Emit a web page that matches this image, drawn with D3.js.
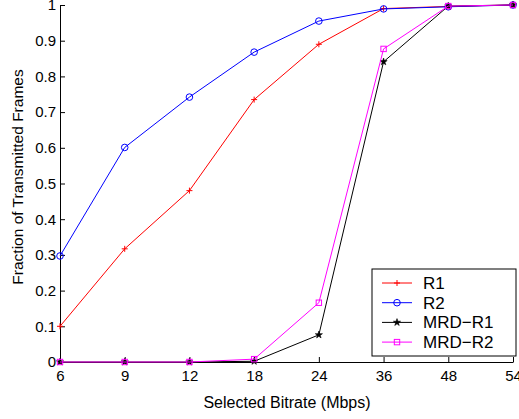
<!DOCTYPE html>
<html>
<head>
<meta charset="utf-8">
<script src="https://cdn.jsdelivr.net/npm/d3@7"></script>
<style>
  body { margin: 0; background: #fff; }
  svg { display: block; font-family: "Liberation Sans", Arial, sans-serif; }
</style>
</head>
<body>
<div id="chart"></div>
<script>
// ── Datos ─────────────────────────────────────────────────────────────────
const bitrates = ["6", "9", "12", "18", "24", "36", "48", "54"];
const yTicks = [0, 0.1, 0.2, 0.3, 0.4, 0.5, 0.6, 0.7, 0.8, 0.9, 1];

const r1    = [0.10, 0.317, 0.48, 0.735, 0.89, 0.99, 0.996, 1];
const r2    = [0.297, 0.601, 0.742, 0.868, 0.955, 0.989, 0.995, 1];
const mrdR1 = [0, 0, 0, 0.002, 0.076, 0.841, 0.997, 1];
const mrdR2 = [0, 0, 0, 0.008, 0.166, 0.877, 0.997, 1];

const series = [
  { name: "R1",     values: r1,    color: "#ff0000", marker: "plus" },
  { name: "R2",     values: r2,    color: "#0000ff", marker: "circle" },
  { name: "MRD\u2212R1", values: mrdR1, color: "#000000", marker: "star" },
  { name: "MRD\u2212R2", values: mrdR2, color: "#ff00ff", marker: "square" }
];

// ── Dimensiones ───────────────────────────────────────────────────────────
const width = 519, height = 419;
const margin = { top: 5, right: 6, bottom: 57, left: 60 };

const x = d3.scalePoint()
  .domain(bitrates)
  .range([margin.left, width - margin.right]);

const y = d3.scaleLinear()
  .domain([0, 1])
  .range([height - margin.bottom, margin.top]);

const svg = d3.create("svg")
  .attr("width", width)
  .attr("height", height)
  .attr("viewBox", [0, 0, width, height]);

// ── Ejes ──────────────────────────────────────────────────────────────────
const xAxis = svg.append("g")
  .attr("transform", `translate(0,${y(0)})`)
  .call(d3.axisBottom(x).tickSizeInner(-5).tickSizeOuter(0).tickPadding(8));

const yAxis = svg.append("g")
  .attr("transform", `translate(${margin.left},0)`)
  .call(d3.axisLeft(y).tickValues(yTicks).tickFormat(d3.format("")).tickSizeInner(-5).tickSizeOuter(0).tickPadding(4));

[xAxis, yAxis].forEach(a => {
  a.select(".domain").attr("stroke", "#000");
  a.selectAll(".tick line").attr("stroke", "#000");
  a.selectAll(".tick text").attr("fill", "#000").style("font-size", "15px");
});

// etiquetas de ejes
svg.append("text")
  .attr("x", 287)
  .attr("y", 408)
  .attr("text-anchor", "middle")
  .style("font-size", "16px")
  .text("Selected Bitrate (Mbps)");

svg.append("text")
  .attr("transform", `translate(23,177) rotate(-90)`)
  .attr("text-anchor", "middle")
  .style("font-size", "15.5px")
  .text("Fraction of Transmitted Frames");

// ── Líneas y marcadores ───────────────────────────────────────────────────
const line = d3.line()
  .x((d, i) => x(bitrates[i]))
  .y(d => y(d));

function drawMarker(sel, type, color) {
  if (type === "plus") {
    sel.append("path").attr("d", "M-3,0H3M0,-3V3")
      .attr("stroke", color).attr("fill", "none");
  } else if (type === "circle") {
    sel.append("circle").attr("r", 3.3)
      .attr("stroke", color).attr("fill", "none");
  } else if (type === "star") {
    sel.append("path").attr("d", d3.symbol(d3.symbolStar, 16)())
      .attr("fill", color).attr("stroke", color).attr("stroke-width", 0.6);
  } else if (type === "square") {
    sel.append("rect").attr("x", -2.7).attr("y", -2.7).attr("width", 5.4).attr("height", 5.4)
      .attr("stroke", color).attr("fill", "none");
  }
}

series.forEach(s => {
  const g = svg.append("g");
  g.append("path")
    .datum(s.values)
    .attr("d", line)
    .attr("fill", "none")
    .attr("stroke", s.color)
    .attr("stroke-width", 1);
  s.values.forEach((v, i) => {
    const m = g.append("g").attr("transform", `translate(${x(bitrates[i])},${y(v)})`);
    drawMarker(m, s.marker, s.color);
  });
});

// ── Leyenda ──────────────────────────────────────────────────────────────
const legend = svg.append("g").attr("transform", "translate(372,269)");
legend.append("rect")
  .attr("width", 144).attr("height", 87)
  .attr("fill", "#fff").attr("stroke", "#000");

series.forEach((s, i) => {
  const row = legend.append("g").attr("transform", `translate(0,${14 + i * 19.7})`);
  row.append("line")
    .attr("x1", 10).attr("x2", 40)
    .attr("stroke", s.color);
  drawMarker(row.append("g").attr("transform", "translate(25,0)"), s.marker, s.color);
  row.append("text")
    .attr("x", 51).attr("dy", "0.35em")
    .style("font-size", "17px")
    .text(s.name);
});

document.getElementById("chart").append(svg.node());
</script>
</body>
</html>
